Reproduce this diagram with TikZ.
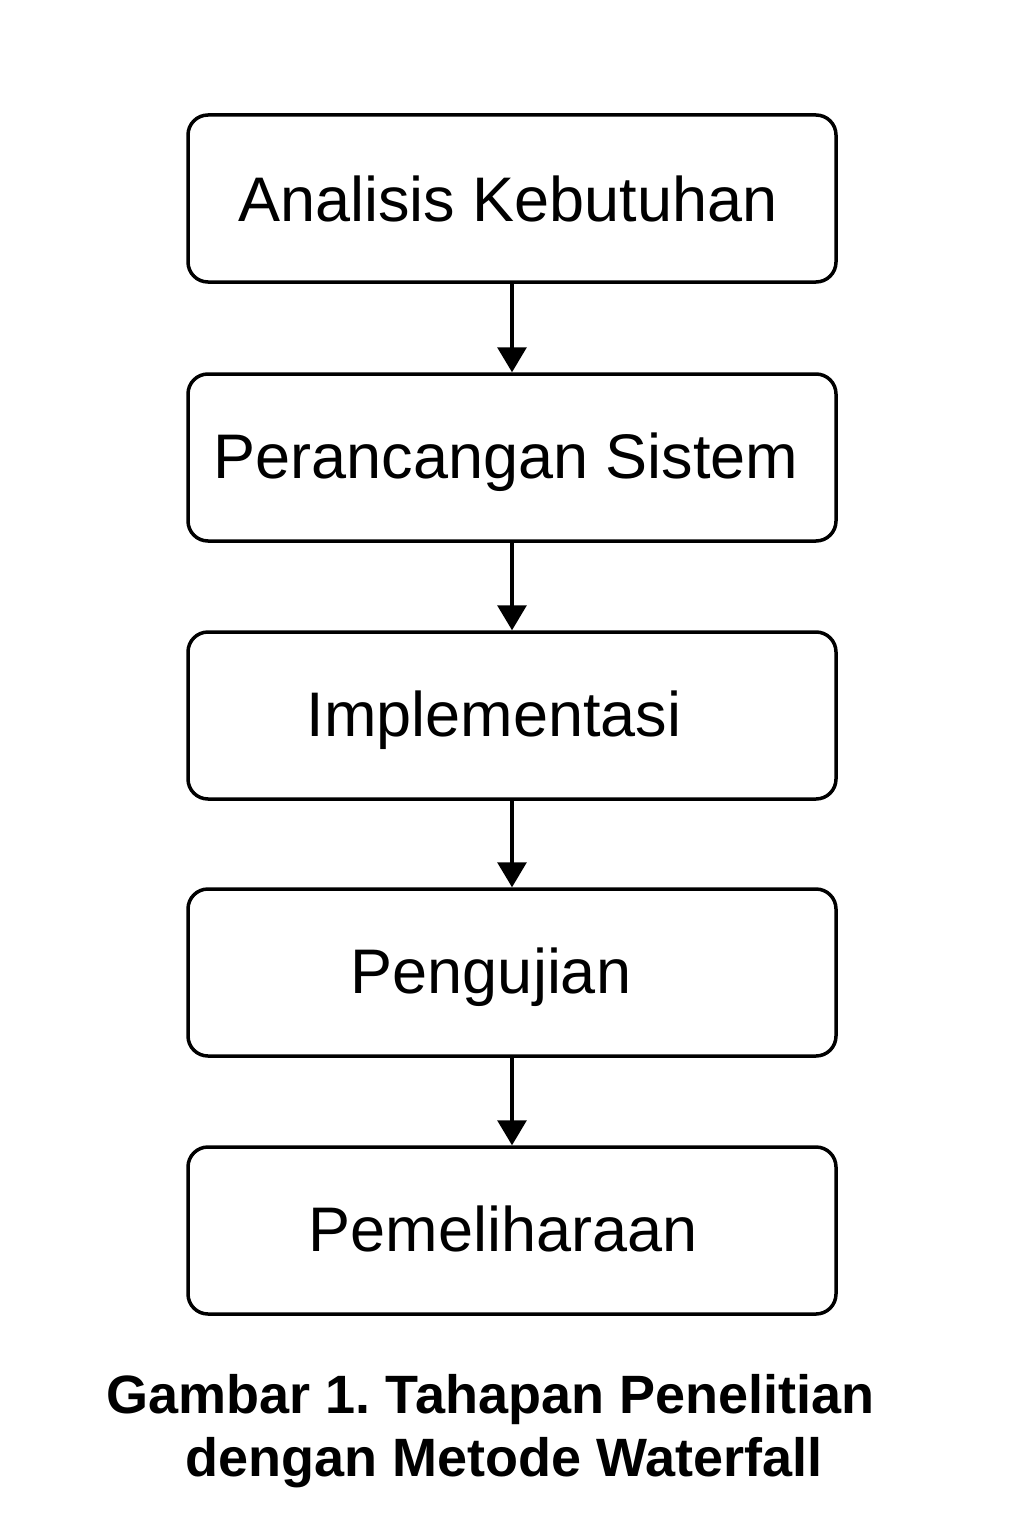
\documentclass[tikz,border=0pt]{standalone}
\usepackage{fontspec}
\setmainfont{Liberation Sans}
\usetikzlibrary{arrows.meta}
\begin{document}
\begin{tikzpicture}[x=1pt,y=-1pt,
  stagebox/.style={draw=black,line width=3.5pt,rounded corners=20pt,minimum width=648pt,minimum height=167pt,inner sep=0pt,fill=white},
  stagetext/.style={font=\fontsize{63}{70}\selectfont,inner sep=0pt,anchor=base},
  flow/.style={line width=3.2pt,-{Triangle[width=29pt,length=25pt]}},
  captext/.style={font=\frenchspacing\bfseries\fontsize{54}{60}\selectfont,inner sep=0pt,anchor=base}]
\useasboundingbox[fill=white] (0,0) rectangle (1024,1536);
\node[stagebox] (b1) at (512,198.5) {};
\node[stagebox] (b2) at (512,457.5) {};
\node[stagebox] (b3) at (512,715.5) {};
\node[stagebox] (b4) at (512,972.5) {};
\node[stagebox] (b5) at (512,1230.5) {};
\node[stagetext] (t1) at (508,221) {Analisis Kebutuhan};
\node[stagetext] (t2) at (506,478) {Perancangan Sistem};
\node[stagetext] (t3) at (494,736) {Implementasi};
\node[stagetext] (t4) at (491,993) {Pengujian};
\node[stagetext] (t5) at (503,1251) {Pemeliharaan};
\draw[flow] (b1.south) -- (b2.north);
\draw[flow] (b2.south) -- (b3.north);
\draw[flow] (b3.south) -- (b4.north);
\draw[flow] (b4.south) -- (b5.north);
\node[captext] (c1) at (490.5,1413) {Gambar 1. Tahapan Penelitian};
\node[captext] (c2) at (504,1476) {dengan Metode Waterfall};
\end{tikzpicture}
\end{document}
